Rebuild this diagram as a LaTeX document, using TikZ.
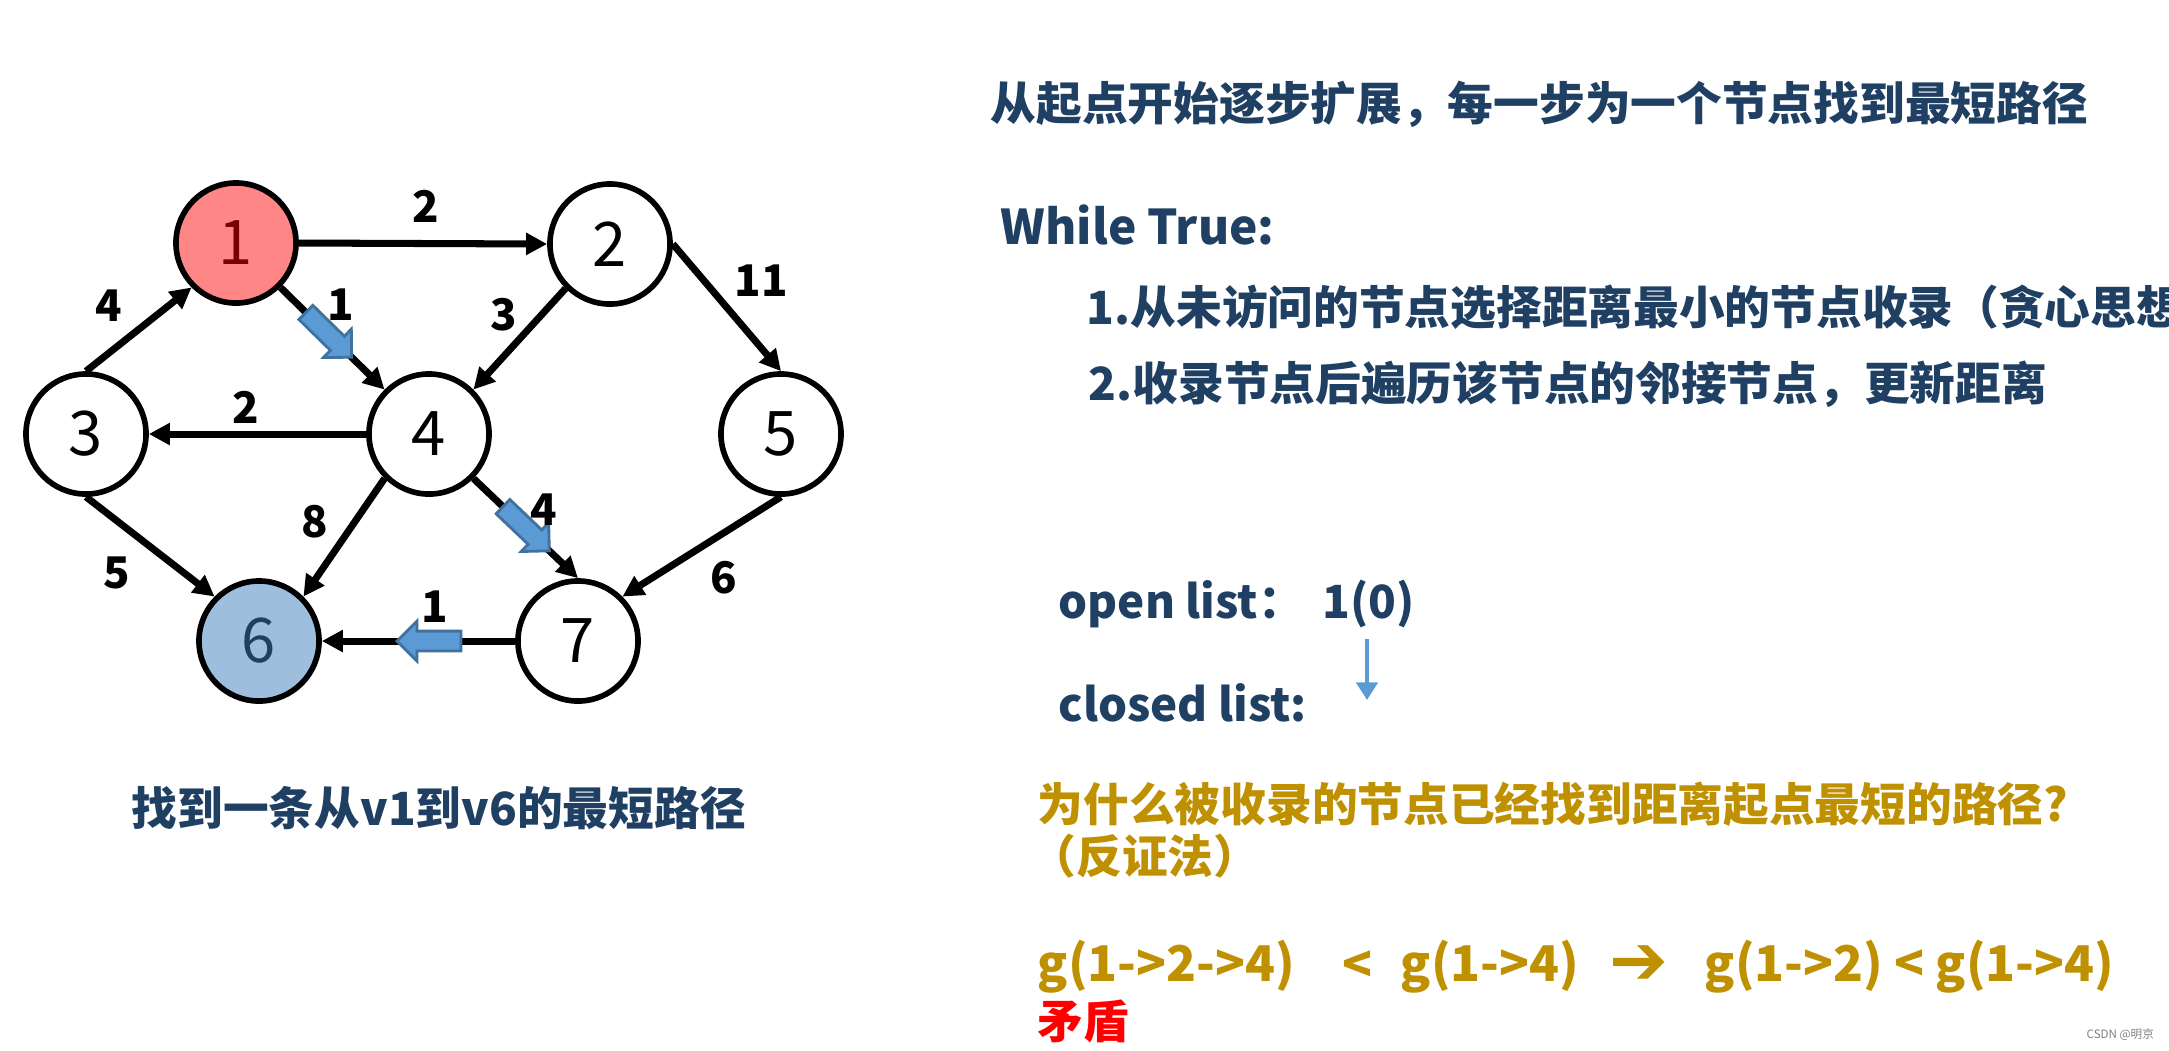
\documentclass[tikz,border=0pt]{standalone}
\usepackage{fontspec}
\setmainfont{Noto Sans CJK SC}
\newfontfamily\symfont{DejaVu Sans}
\newfontfamily\symbold{DejaVu Sans Bold}
\usetikzlibrary{arrows.meta,shapes.arrows}
\definecolor{textblue}{RGB}{31,63,99}
\definecolor{gold}{RGB}{191,144,0}
\definecolor{startred}{RGB}{255,134,134}
\definecolor{darkred}{RGB}{120,0,0}
\definecolor{goalblue}{RGB}{157,190,220}
\definecolor{markblue}{RGB}{91,155,213}
\definecolor{markedge}{RGB}{65,113,156}

\begin{document}
\begin{tikzpicture}[x=0.01cm,y=-0.01cm,
  vertex/.style={draw,circle,line width=1.6pt,minimum size=1.2cm,inner sep=0pt,fill=white,font=\fontsize{17.5}{20}\selectfont},
  link/.style={-{Triangle[length=6pt,width=6pt]},line width=2pt},
  weight/.style={inner sep=0pt,font=\bfseries\fontsize{12.4}{14}\selectfont},
  hint/.style={single arrow,draw=markedge,fill=markblue,line width=0.8pt,minimum height=0.64cm,minimum width=0pt,single arrow head extend=0.1cm,inner xsep=0pt,inner ysep=0.085cm,sloped,allow upside down},
  note/.style={anchor=west,inner sep=0pt,text=textblue,font=\bfseries\fontsize{13}{15}\selectfont},
  proof/.style={anchor=west,inner sep=0pt,text=gold,font=\bfseries\fontsize{13}{15}\selectfont},
  formula/.style={anchor=west,inner sep=0pt,text=gold,font=\bfseries\fontsize{14}{17}\selectfont}]
\useasboundingbox (0,0) rectangle (2169,1050);

\node[vertex,fill=startred,text=darkred] (n1) at (236,243) {1};
\node[vertex] (n2) at (610,244) {2};
\node[vertex] (n3) at (86,434) {3};
\node[vertex] (n4) at (429,434) {4};
\node[vertex] (n5) at (781,434) {5};
\node[vertex,fill=goalblue,text=textblue] (n6) at (259,641) {6};
\node[vertex] (n7) at (578,641) {7};

\draw[link] (n1.east) -- (n2.west);
\draw[link] (n3.north) -- (n1.south west);
\draw[link] (n1.south east) -- node[hint,pos=0.43] (h14) {} (n4.north west);
\draw[link] (n2.south west) -- (n4.north east);
\draw[link] (n2.east) -- (n5.north);
\draw[link] (n4.west) -- (n3.east);
\draw[link] (n4.south west) -- (n6.north east);
\draw[link] (n4.south east) -- node[hint,pos=0.47] (h47) {} (n7.north);
\draw[link] (n3.south) -- (n6.north west);
\draw[link] (n5.south) -- (n7.north east);
\draw[link] (n7.west) -- node[hint,pos=0.42] (h76) {} (n6.east);

\node[weight] (w12) at (426,206) {2};
\node[weight] (w31) at (109,306) {4};
\node[weight] (w14) at (341,305) {1};
\node[weight] (w24) at (504,315) {3};
\node[weight] (w25) at (761,281) {11};
\node[weight] (w43) at (246,407) {2};
\node[weight] (w46) at (315,522) {8};
\node[weight] (w47) at (544,510) {4};
\node[weight] (w36) at (117,573) {5};
\node[weight] (w57) at (724,578) {6};
\node[weight] (w76) at (435,607) {1};

\node[note] (goal) at (131,808) {找到一条从v1到v6的最短路径};

\node[note] (idea) at (990,104) {从起点开始逐步扩展，每一步为一个节点找到最短路径};
\node[note,font=\bfseries\fontsize{13.6}{16}\selectfont] (loop) at (1000,225) {While True:};
\node[note] (step1) at (1086,307) {1.从未访问的节点选择距离最小的节点收录（贪心思想};
\node[note] (step2) at (1088,384) {2.收录节点后遍历该节点的邻接节点，更新距离};

\node[note] (open) at (1058,604) {open list：};
\node[note] (open0) at (1322,604) {1(0)};
\node[note] (closed) at (1058,703) {closed list:};
\coordinate (flowtop) at (1367,639);
\coordinate (flowend) at (1367,700);
\draw[-{Triangle[length=5pt,width=6pt]},markblue,line width=1.2pt] (flowtop) -- (flowend);

\node[proof] (why) at (1037,804) {为什么被收录的节点已经找到距离起点最短的路径?};
\node[proof] (how) at (1030,856) {（反证法）};
\node[formula] (f1) at (1037,967) {g(1->2->4)};
\node[formula] (f2) at (1342,967) {<};
\node[formula] (f3) at (1400,967) {g(1->4)};
\node[formula,font=\fontsize{20}{22}\selectfont] (f4) at (1609,965) {\symbold ➔};
\node[formula] (f5) at (1704,967) {g(1->2) < g(1->4)};
\node[proof,text=red] (clash) at (1037,1021) {矛盾};

\node[anchor=west,inner sep=0pt,text=gray,font=\fontsize{3.3}{4}\selectfont] (mark) at (2086,1035) {CSDN @明京};
\end{tikzpicture}
\end{document}
